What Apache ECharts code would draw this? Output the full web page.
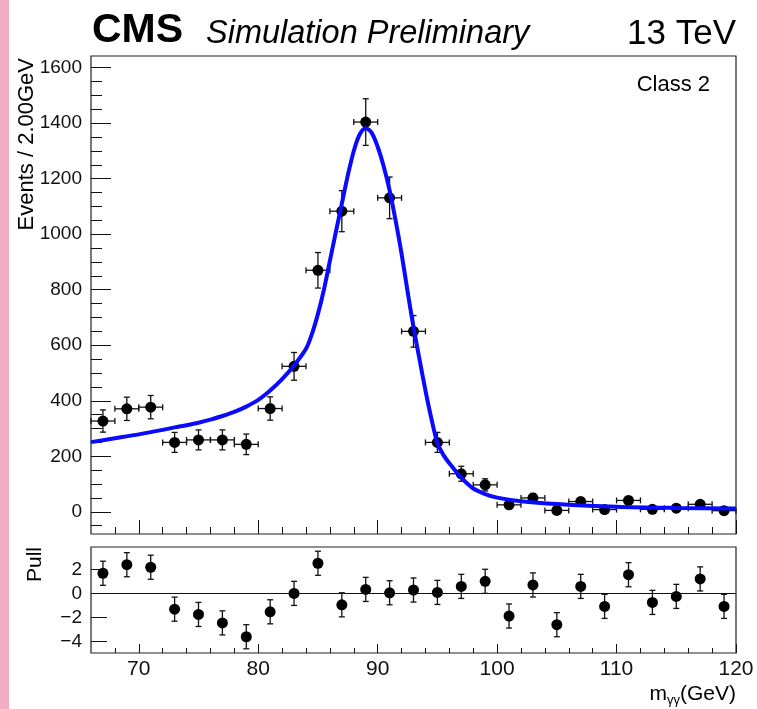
<!DOCTYPE html>
<html>
<head>
<meta charset="utf-8">
<script src="https://cdn.jsdelivr.net/npm/echarts@6/dist/echarts.min.js"></script>
<style>
  html, body { margin: 0; background: #fff; }
  #main { width: 757px; height: 709px; }
</style>
</head>
<body>
<div id="main"></div>
<script>
// bin centres (GeV)
var massBins = [67, 69, 71, 73, 75, 77, 79, 81, 83, 85, 87, 89, 91, 93, 95, 97, 99, 101, 103, 105, 107, 109, 111, 113, 115, 117, 119];
// events per 2 GeV
var events = [327, 371, 377, 250, 259, 259, 243, 372, 524, 870, 1083, 1404, 1131, 650, 250, 137, 97, 25, 50, 5, 37, 8, 41, 9, 13, 27, 4];
var eventErr = [40, 42, 42, 36, 36, 36, 37, 42, 50, 64, 74, 84, 75, 57, 36, 27, 22, 12, 16, 6, 14, 7, 14, 7, 8, 11, 5];
// pulls
var pulls = [1.67, 2.38, 2.17, -1.31, -1.75, -2.45, -3.6, -1.53, 0.0, 2.5, -0.95, 0.33, 0.05, 0.28, 0.08, 0.58, 1.0, -1.88, 0.7, -2.6, 0.58, -1.08, 1.55, -0.75, -0.25, 1.2, -1.08];
var pullErr = [1, 1, 1, 1, 1, 1, 1, 1, 1, 1, 1, 1, 1, 1, 1, 1, 1, 1, 1, 1, 1, 1, 1, 1, 1, 1, 1];
// fit curve
var fitX = [66, 68, 70, 72, 73, 74, 75, 76, 77, 78, 79, 80, 81, 82, 83, 84, 84.5, 85, 85.5, 86, 86.5, 87, 87.5, 88, 88.5, 89, 89.5, 90, 90.5, 91, 91.5, 92, 92.5, 93, 93.5, 94, 94.5, 95, 95.5, 96, 97, 98, 99, 100, 102, 105, 110, 115, 120];
var fitY = [251, 265, 279, 295, 304, 312, 321, 332, 345, 360, 379, 403, 437, 478, 527, 587, 641, 713, 800, 904, 1008, 1110, 1212, 1300, 1360, 1382, 1365, 1315, 1245, 1158, 1050, 930, 795, 665, 550, 437, 335, 248, 205, 175, 123, 84, 64, 51, 38, 28, 18, 14, 12];
// axis ticks
var xMajor = [70, 80, 90, 100, 110, 120];
var xMinor = [68, 72, 74, 76, 78, 82, 84, 86, 88, 92, 94, 96, 98, 102, 104, 106, 108, 112, 114, 116, 118];
var yMajor = [0, 200, 400, 600, 800, 1000, 1200, 1400, 1600];
var yMinor = [-50, 50, 100, 150, 250, 300, 350, 450, 500, 550, 650, 700, 750, 850, 900, 950, 1050, 1100, 1150, 1250, 1300, 1350, 1450, 1500, 1550];
var pullTicks = [-4, -2, 0, 2];

var FONT = '"Liberation Sans", Arial, Helvetica, sans-serif';
var chart = echarts.init(document.getElementById('main'));

function tickAxis(grid, ticks, len, labels, extra) {
  return Object.assign({
    type: 'value',
    gridIndex: grid,
    axisLine: { show: false, onZero: false },
    splitLine: { show: false },
    axisTick: { show: true, inside: true, length: len, customValues: ticks, lineStyle: { color: '#111', width: 1 } },
    axisLabel: labels ? Object.assign({
      show: true, color: '#111', fontFamily: FONT, customValues: ticks,
      formatter: function (v) { return String(v); }
    }, labels) : { show: false }
  }, extra);
}

// data error bars with caps
function dataErrors(params, api) {
  var x = api.value(0), y = api.value(1), e = api.value(2), xe = api.value(3);
  var c = api.coord([x, y]);
  var top = api.coord([x, y + e]);
  var bot = api.coord([x, y - e]);
  var l = api.coord([x - xe, y]);
  var r = api.coord([x + xe, y]);
  var st = { stroke: '#111', lineWidth: 1.3 };
  var kids = [
    { type: 'line', shape: { x1: c[0], y1: top[1], x2: c[0], y2: bot[1] }, style: st },
    { type: 'line', shape: { x1: c[0] - 3, y1: top[1], x2: c[0] + 3, y2: top[1] }, style: st },
    { type: 'line', shape: { x1: c[0] - 3, y1: bot[1], x2: c[0] + 3, y2: bot[1] }, style: st }
  ];
  if (xe > 0) {
    kids.push({ type: 'line', shape: { x1: l[0], y1: c[1], x2: r[0], y2: c[1] }, style: st });
    kids.push({ type: 'line', shape: { x1: l[0], y1: c[1] - 3, x2: l[0], y2: c[1] + 3 }, style: st });
    kids.push({ type: 'line', shape: { x1: r[0], y1: c[1] - 3, x2: r[0], y2: c[1] + 3 }, style: st });
  }
  return { type: 'group', children: kids };
}

var mainPts = massBins.map(function (m, i) { return [m, events[i]]; });
var mainErr = massBins.map(function (m, i) { return [m, events[i], eventErr[i], 1]; });
var pullPts = massBins.map(function (m, i) { return [m, pulls[i]]; });
var pullBars = massBins.map(function (m, i) { return [m, pulls[i], pullErr[i], 0]; });
var fitPts = fitX.map(function (m, i) { return [m, fitY[i]]; });

var option = {
  animation: false,
  backgroundColor: '#fff',
  grid: [
    { left: 91, top: 56, width: 645, height: 478, show: true, borderColor: '#222', borderWidth: 1.2, backgroundColor: 'transparent' },
    { left: 91, top: 547, width: 645, height: 106, show: true, borderColor: '#222', borderWidth: 1.2, backgroundColor: 'transparent' }
  ],
  xAxis: [
    tickAxis(0, xMajor, 14, null, { min: 66, max: 120, position: 'bottom' }),
    tickAxis(0, xMinor, 7, null, { min: 66, max: 120, position: 'bottom' }),
    tickAxis(1, xMajor, 9, { fontSize: 21, margin: 6 }, { min: 66, max: 120, position: 'bottom' }),
    tickAxis(1, xMinor, 5, null, { min: 66, max: 120, position: 'bottom' })
  ],
  yAxis: [
    tickAxis(0, yMajor, 20, { fontSize: 19, margin: 9 }, { min: -80, max: 1642, position: 'left' }),
    tickAxis(0, yMinor, 11, null, { min: -80, max: 1642, position: 'left' }),
    tickAxis(1, pullTicks, 16, {
      fontSize: 19, margin: 9,
      formatter: function (v) { return v < 0 ? '\u2212' + Math.abs(v) : String(v); }
    }, { min: -4.95, max: 3.85, position: 'left' })
  ],
  series: [
    {
      type: 'custom', xAxisIndex: 0, yAxisIndex: 0,
      renderItem: dataErrors, data: mainErr, z: 2, silent: true
    },
    {
      type: 'scatter', xAxisIndex: 0, yAxisIndex: 0,
      data: mainPts, symbol: 'circle', symbolSize: 11,
      itemStyle: { color: '#000', opacity: 1 }, z: 3, silent: true
    },
    {
      type: 'line', xAxisIndex: 0, yAxisIndex: 0,
      data: fitPts, smooth: 0.3, showSymbol: false,
      lineStyle: { color: '#0a0aff', width: 4 }, z: 4, silent: true
    },
    {
      type: 'custom', xAxisIndex: 2, yAxisIndex: 2,
      renderItem: dataErrors, data: pullBars, z: 2, silent: true
    },
    {
      type: 'scatter', xAxisIndex: 2, yAxisIndex: 2,
      data: pullPts, symbol: 'circle', symbolSize: 11,
      itemStyle: { color: '#000', opacity: 1 }, z: 3, silent: true,
      markLine: {
        silent: true, symbol: 'none', label: { show: false },
        lineStyle: { color: '#111', width: 1, type: 'solid' },
        data: [{ yAxis: 0 }]
      }
    }
  ],
  graphic: [
    { type: 'rect', left: 0, top: 0, shape: { width: 9, height: 709 }, style: { fill: '#f4aec4' }, silent: true },
    { type: 'text', x: 92, y: 31, style: { text: 'CMS', font: 'bold 41px ' + FONT, fill: '#000', verticalAlign: 'middle' } },
    { type: 'text', x: 206, y: 34, style: { text: 'Simulation Preliminary', font: 'italic 32.5px ' + FONT, fill: '#000', verticalAlign: 'middle' } },
    { type: 'text', x: 736, y: 34, style: { text: '13 TeV', font: '35px ' + FONT, fill: '#000', align: 'right', verticalAlign: 'middle' } },
    { type: 'text', x: 710, y: 85, style: { text: 'Class 2', font: '22px ' + FONT, fill: '#000', align: 'right', verticalAlign: 'middle' } },
    { type: 'text', x: 27, y: 58, rotation: Math.PI / 2, style: { text: 'Events / 2.00GeV', font: '22px ' + FONT, fill: '#000', align: 'right', verticalAlign: 'middle' } },
    { type: 'text', x: 35, y: 547, rotation: Math.PI / 2, style: { text: 'Pull', font: '21px ' + FONT, fill: '#000', align: 'right', verticalAlign: 'middle' } },
    {
      type: 'text', x: 736, y: 694,
      style: {
        text: '{a|m}{b|\u03b3\u03b3}{a|(GeV)}', align: 'right', verticalAlign: 'middle', fill: '#000',
        rich: {
          a: { fontFamily: FONT, fontSize: 21, fill: '#000' },
          b: { fontFamily: FONT, fontSize: 13, fill: '#000', padding: [12, 0, 0, 0] }
        }
      }
    }
  ]
};
chart.setOption(option);
</script>
</body>
</html>
